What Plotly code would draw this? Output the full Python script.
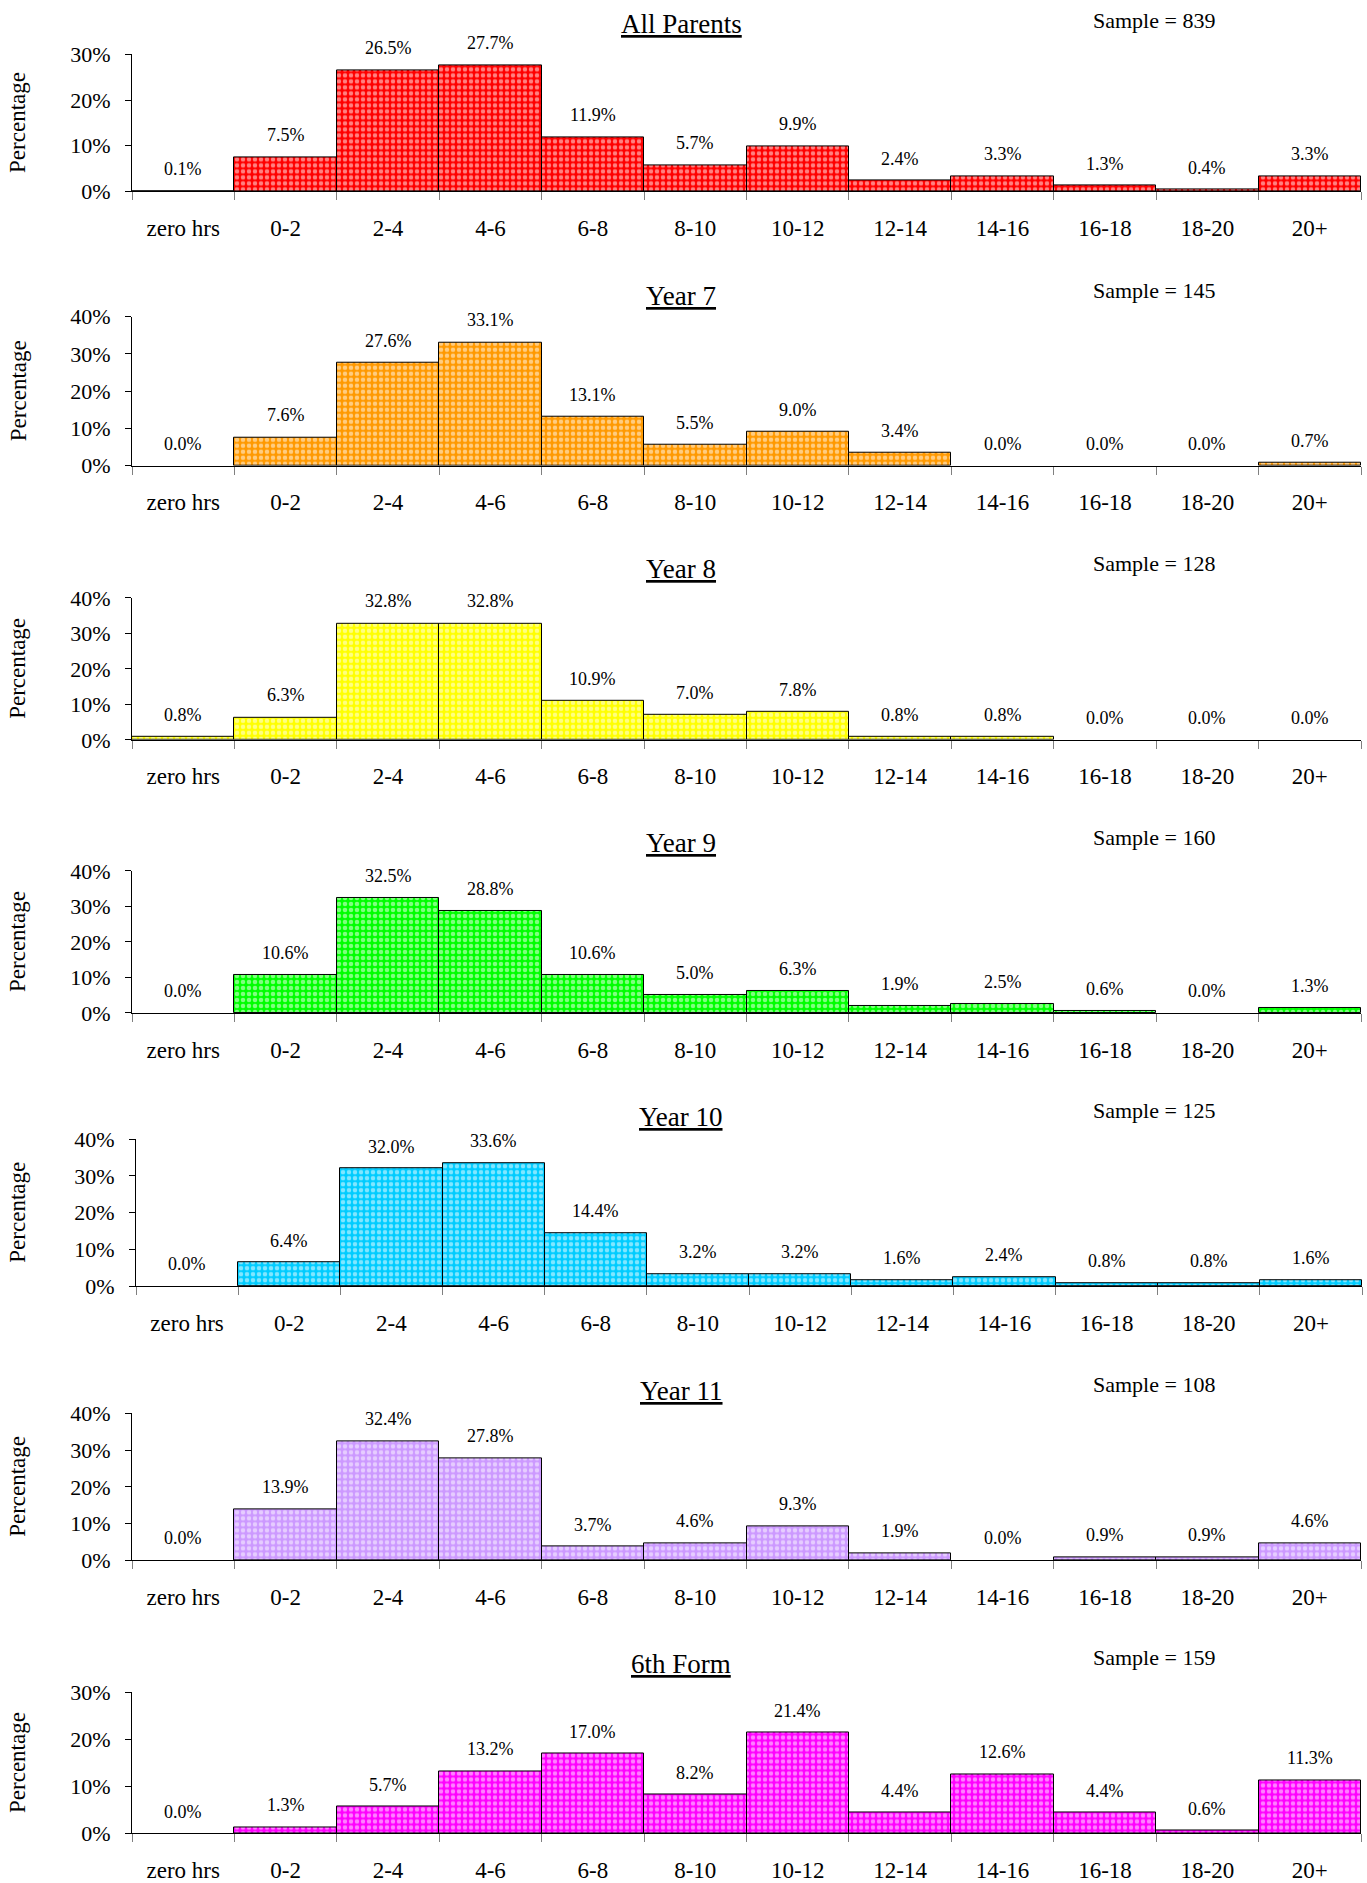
import plotly.graph_objects as go

W, H = 1367, 1883

categories = ["zero hrs", "0-2", "2-4", "4-6", "6-8", "8-10", "10-12",
              "12-14", "14-16", "16-18", "18-20", "20+"]

all_parents = [0.1, 7.5, 26.5, 27.7, 11.9, 5.7, 9.9, 2.4, 3.3, 1.3, 0.4, 3.3]
year_7 = [0.0, 7.6, 27.6, 33.1, 13.1, 5.5, 9.0, 3.4, 0.0, 0.0, 0.0, 0.7]
year_8 = [0.8, 6.3, 32.8, 32.8, 10.9, 7.0, 7.8, 0.8, 0.8, 0.0, 0.0, 0.0]
year_9 = [0.0, 10.6, 32.5, 28.8, 10.6, 5.0, 6.3, 1.9, 2.5, 0.6, 0.0, 1.3]
year_10 = [0.0, 6.4, 32.0, 33.6, 14.4, 3.2, 3.2, 1.6, 2.4, 0.8, 0.8, 1.6]
year_11 = [0.0, 13.9, 32.4, 27.8, 3.7, 4.6, 9.3, 1.9, 0.0, 0.9, 0.9, 4.6]
sixth_form = [0.0, 1.3, 5.7, 13.2, 17.0, 8.2, 21.4, 4.4, 12.6, 4.4, 0.6, 11.3]

titles = ["All Parents", "Year 7", "Year 8", "Year 9", "Year 10", "Year 11", "6th Form"]
samples = [839, 145, 128, 160, 125, 108, 159]
y_max = [30, 40, 40, 40, 40, 40, 30]
colours = ["#FF0000", "#FF9900", "#FFFF00", "#00FF00", "#00CCFF", "#CC99FF", "#FF00FF"]

series = [all_parents, year_7, year_8, year_9, year_10, year_11, sixth_form]

# panel placement in pixels: (top of axis, zero line, left, right)
panels = [
    (43, 182, 132, 1361),
    (309, 460, 132, 1361),
    (594, 738, 132, 1361),
    (871, 1015, 132, 1361),
    (1143, 1292, 136, 1362),
    (1421, 1570, 132, 1361),
    (1704, 1847, 132, 1361),
]
title_y = [12, 288, 565, 843, 1120, 1398, 1675]
sample_y = [9, 282, 559, 837, 1114, 1392, 1669]

FONT = "Liberation Serif, Times New Roman, serif"

fig = go.Figure()
annotations = []

for i, (vals, col) in enumerate(zip(series, colours)):
    n = i + 1
    xa = "x" if n == 1 else f"x{n}"
    ya = "y" if n == 1 else f"y{n}"
    top, bottom, left, right = panels[i]

    fig.add_trace(go.Bar(
        x=categories, y=vals, xaxis=xa, yaxis=ya,
        marker=dict(color=col,
                    line=dict(color="black", width=[1 if v > 0 else 0 for v in vals]),
                    pattern=dict(shape=".", fgcolor="white", bgcolor=col,
                                 size=6, solidity=0.45)),
        showlegend=False, hoverinfo="x+y",
    ))

    fig.layout[f"xaxis{'' if n == 1 else n}"] = dict(
        domain=[left / W, right / W], anchor=ya,
        type="category", tickson="boundaries", ticks="outside", ticklen=8,
        tickcolor="#808080", showline=True, linecolor="black", linewidth=1,
        showgrid=False, tickfont=dict(family=FONT, size=23, color="black"),
        ticklabelstandoff=16, fixedrange=True,
    )
    fig.layout[f"yaxis{'' if n == 1 else n}"] = dict(
        domain=[1 - bottom / H, 1 - top / H], anchor=xa,
        range=[0, y_max[i]], dtick=10, ticksuffix="%", ticks="outside",
        ticklen=6, tickcolor="black", showline=True, linecolor="black",
        linewidth=1, showgrid=False, zeroline=False,
        tickfont=dict(family=FONT, size=22, color="black"),
        ticklabelstandoff=10, fixedrange=True,
    )

    for c, v in zip(categories, vals):
        annotations.append(dict(
            x=c, y=v, xref=xa, yref=ya, text=f"{v:.1f}%", showarrow=False,
            yshift=22, xanchor="center", yanchor="middle",
            font=dict(family=FONT, size=18, color="black"),
        ))

    annotations.append(dict(
        x=681 / W, y=1 - title_y[i] / H, xref="paper", yref="paper",
        text=f"<u>{titles[i]}</u>", showarrow=False,
        xanchor="center", yanchor="middle",
        font=dict(family=FONT, size=27, color="black"),
    ))
    annotations.append(dict(
        x=1154 / W, y=1 - sample_y[i] / H, xref="paper", yref="paper",
        text=f"Sample = {samples[i]}", showarrow=False,
        xanchor="center", yanchor="middle",
        font=dict(family=FONT, size=22, color="black"),
    ))
    annotations.append(dict(
        x=18 / W, y=1 - (top + bottom) / 2 / H, xref="paper", yref="paper",
        text="Percentage", textangle=-90, showarrow=False,
        xanchor="center", yanchor="middle",
        font=dict(family=FONT, size=23, color="black"),
    ))

fig.update_layout(
    width=W, height=H, margin=dict(l=0, r=0, t=0, b=0),
    paper_bgcolor="white", plot_bgcolor="white",
    bargap=0, annotations=annotations,
)

fig.write_html("out.html", config={"displayModeBar": False},
               post_script="document.body.style.margin='0';")
